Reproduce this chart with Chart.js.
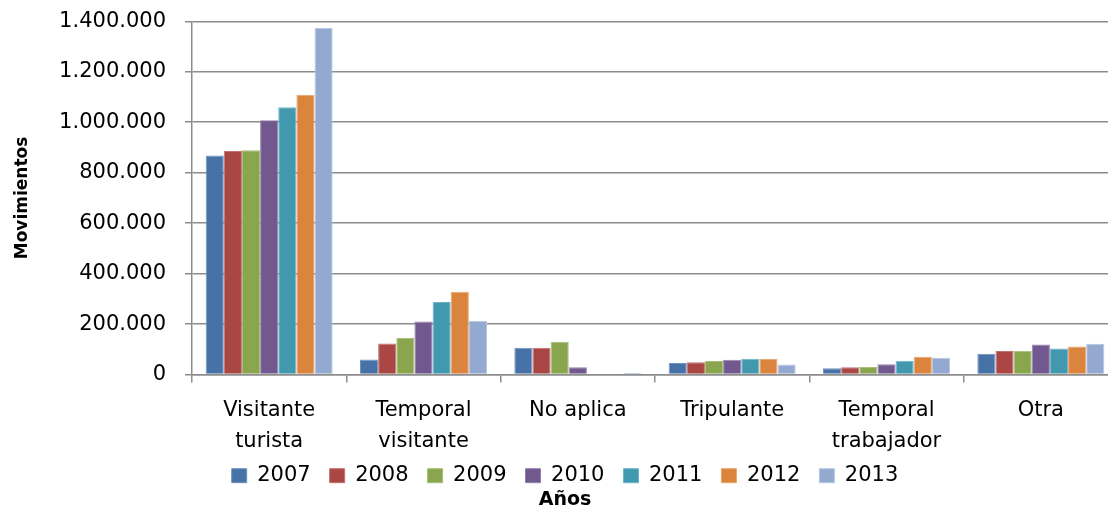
<!DOCTYPE html>
<html>
<head>
<meta charset="utf-8">
<script src="https://cdn.jsdelivr.net/npm/chart.js@4.4.1/dist/chart.umd.min.js"></script>
<style>
  html, body { margin: 0; padding: 0; background: #ffffff; overflow: hidden; }
  #wrap { position: absolute; left: 0; top: 0; width: 1122px; height: 511px; }
</style>
</head>
<body>
<div id="wrap"><canvas id="c"></canvas></div>
<script>
const categories = [
  ['Visitante', 'turista'],
  ['Temporal', 'visitante'],
  'No aplica',
  'Tripulante',
  ['Temporal', 'trabajador'],
  'Otra'
];
const years = ['2007', '2008', '2009', '2010', '2011', '2012', '2013'];
const v2007 = [868000, 60000, 106000, 46000, 25000, 83000];
const v2008 = [886000, 123000, 106000, 49000, 29000, 94000];
const v2009 = [889000, 146000, 130000, 54000, 30000, 95000];
const v2010 = [1008000, 210000, 29000, 59000, 41000, 119000];
const v2011 = [1059000, 288000, 0, 63000, 55000, 103000];
const v2012 = [1109000, 328000, 0, 63000, 71000, 111000];
const v2013 = [1373000, 213000, 7000, 40000, 67000, 122000];
const yMin = 0, yMax = 1400000, yStep = 200000;
const yTitle = 'Movimientos';
const xTitle = 'Años';

const series = [v2007, v2008, v2009, v2010, v2011, v2012, v2013];
const colors = ['#4672A8', '#AA4644', '#89A54E', '#71588F', '#4198AF', '#DB843D', '#93A9D0'];
const borders = ['#6f93c0', '#c27270', '#a7c076', '#9480ad', '#6db5c8', '#eaa56b', '#b6c7e3'];

function fmt(v) {
  return String(v).replace(/\B(?=(\d{3})+(?!\d))/g, '.');
}

const FONT = 'DejaVu Sans';
const GRID = '#8c8c8c';

// let the category labels' descenders reach below the (shortened) x-axis box
const extendLabelArea = {
  id: 'extendLabelArea',
  afterLayout(chart) {
    const xs = chart.scales.x;
    if (xs) { xs.bottom = xs.top + 95; }
  }
};

new Chart(document.getElementById('c'), {
  type: 'bar',
  plugins: [extendLabelArea],
  data: {
    labels: categories,
    datasets: years.map((y, i) => ({
      label: y,
      data: series[i],
      backgroundColor: colors[i],
      borderColor: borders[i],
      borderWidth: 1,
      categoryPercentage: 0.823,
      barPercentage: 1.0
    }))
  },
  options: {
    responsive: true,
    maintainAspectRatio: false,
    animation: false,
    devicePixelRatio: 1,
    layout: { padding: { left: 12, right: 4, top: 21.3, bottom: 0 } },
    plugins: {
      tooltip: { enabled: false },
      legend: {
        display: true,
        position: 'bottom',
        align: 'center',
        labels: {
          boxWidth: 15,
          boxHeight: 14,
          padding: 19,
          color: '#000000',
          font: { family: FONT, size: 21 }
        }
      },
      title: {
        display: true,
        text: xTitle,
        position: 'bottom',
        color: '#000000',
        font: { family: FONT, size: 19, weight: 'bold', lineHeight: 1.2 },
        padding: { top: -8, bottom: 0 }
      }
    },
    scales: {
      x: {
        offset: true,
        grid: {
          display: true,
          offset: true,
          drawOnChartArea: false,
          drawTicks: true,
          tickLength: 8,
          color: GRID,
          lineWidth: 1.5
        },
        border: { display: true, color: GRID, width: 1.5 },
        ticks: {
          color: '#000000',
          padding: 11.5,
          maxRotation: 0,
          minRotation: 0,
          autoSkip: false,
          font: { family: FONT, size: 21, lineHeight: 1.52 }
        },
        afterFit: function (scale) { scale.height = 71.6; }
      },
      y: {
        min: yMin,
        max: yMax,
        grid: {
          display: true,
          drawOnChartArea: true,
          drawTicks: true,
          tickLength: 7,
          color: GRID,
          lineWidth: 1.5
        },
        border: { display: true, color: GRID, width: 1.5 },
        ticks: {
          stepSize: yStep,
          color: '#000000',
          padding: 19,
          font: { family: FONT, size: 21, lineHeight: 0.2 },
          callback: function (v) { return fmt(v); }
        },
        title: {
          display: true,
          text: yTitle,
          color: '#000000',
          font: { family: FONT, size: 17, weight: 'bold', lineHeight: 1.2 },
          padding: { top: 0, bottom: 0 }
        },
        afterFit: function (scale) { scale.width = 180; }
      }
    }
  }
});
</script>
</body>
</html>
